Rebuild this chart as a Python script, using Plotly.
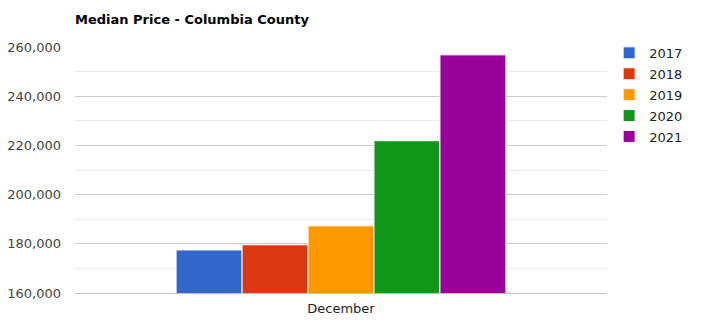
import plotly.graph_objects as go

categories = ["December"]
years = ["2017", "2018", "2019", "2020", "2021"]
values = [177500, 179600, 187300, 221900, 256800]
colors = ["#3366CC", "#DC3912", "#FF9900", "#109618", "#990099"]
y_ticks = [160000, 180000, 200000, 220000, 240000, 260000]
title = "Median Price - Columbia County"

W, H = 701, 322
L, R, T, B = 75, 94, 47, 29

fig = go.Figure()
for yr, v, c in zip(years, values, colors):
    fig.add_trace(go.Bar(
        x=categories, y=[v], name=yr, legendgroup=yr,
        marker=dict(color=c, line=dict(color="white", width=1)),
        hoverinfo="skip",
    ))

fig.update_layout(
    width=W, height=H,
    margin=dict(l=L, r=R, t=T, b=B, pad=0, autoexpand=False),
    paper_bgcolor="white", plot_bgcolor="white",
    font=dict(family="DejaVu Sans, Verdana, sans-serif", size=13, color="#444444"),
    barmode="group", bargap=0.38, bargroupgap=0,
    title=dict(text="<b>" + title + "</b>", x=L / W, xref="container", xanchor="left",
               y=1 - 19 / H, yref="container", yanchor="middle",
               font=dict(size=13, color="#000000")),
    showlegend=True,
    legend=dict(x=1.004, xanchor="left", y=1.037, yanchor="top",
                font=dict(size=13, color="#222222"), tracegroupgap=1,
                bgcolor="rgba(0,0,0,0)"),
    xaxis=dict(showgrid=False, showline=True, linecolor="#c0c0c0", linewidth=1,
               automargin=False, ticklabelstandoff=3,
               ticks="", tickfont=dict(size=13, color="#222222"), fixedrange=True),
    yaxis=dict(range=[160000, 260000], tickvals=y_ticks, tickformat=",",
               automargin=False,
               showgrid=True, gridcolor="#cccccc", gridwidth=1,
               zeroline=False, showline=False, ticks="",
               ticklabelstandoff=13,
               minor=dict(dtick=10000, showgrid=True, gridcolor="#ebebeb", gridwidth=1),
               tickfont=dict(size=13, color="#444444"), fixedrange=True),
)

fig.write_html("out.html", config={"displayModeBar": False})
